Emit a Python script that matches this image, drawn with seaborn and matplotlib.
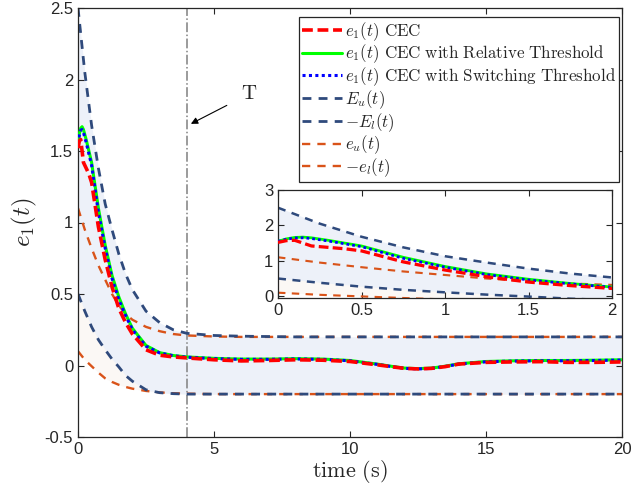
import numpy as np
import matplotlib
matplotlib.use('Agg')
from matplotlib import pyplot as plt
import seaborn as sns

# error trajectories e1(t)
t_e = [0, 0.05, 0.1, 0.15, 0.2, 0.3, 0.4, 0.5, 0.75, 1, 1.25, 1.5, 1.75, 2, 2.5, 3, 3.5, 4,
       5, 6, 7, 8, 9, 10, 11, 11.5, 12, 12.5, 13, 13.5, 14, 15, 16, 17, 18, 19, 20]
e_cec = [1.52, 1.57, 1.58, 1.50, 1.42, 1.38, 1.34, 1.28, 0.97, 0.74, 0.55, 0.40, 0.30, 0.22, 0.11, 0.072, 0.06, 0.053,
         0.04, 0.032, 0.035, 0.04, 0.037, 0.028, 0.005, -0.008, -0.02, -0.024, -0.02, -0.008, 0.01,
         0.022, 0.025, 0.027, 0.022, 0.022, 0.025]
e_rel = [1.55, 1.62, 1.66, 1.67, 1.65, 1.58, 1.50, 1.42, 1.10, 0.84, 0.63, 0.48, 0.36, 0.26, 0.14, 0.09, 0.07, 0.06,
         0.05, 0.045, 0.045, 0.048, 0.045, 0.035, 0.01, -0.005, -0.018, -0.022, -0.018, -0.005, 0.012,
         0.028, 0.033, 0.035, 0.035, 0.037, 0.04]
e_sw = [1.55, 1.61, 1.645, 1.65, 1.63, 1.56, 1.48, 1.40, 1.07, 0.82, 0.61, 0.46, 0.35, 0.25, 0.135, 0.088, 0.068, 0.058,
        0.048, 0.043, 0.043, 0.046, 0.043, 0.033, 0.008, -0.007, -0.02, -0.024, -0.02, -0.007, 0.01,
        0.026, 0.031, 0.033, 0.033, 0.035, 0.038]

# performance bounds
t_b = [0, 0.25, 0.5, 0.75, 1, 1.25, 1.5, 1.75, 2, 2.5, 3, 3.5, 4, 5, 6, 8, 10, 12, 14, 16, 18, 20]
E_u = [2.5, 2.05, 1.68, 1.38, 1.13, 0.95, 0.78, 0.64, 0.53, 0.38, 0.30, 0.25, 0.225, 0.21, 0.205,
       0.2, 0.2, 0.2, 0.2, 0.2, 0.2, 0.2]
E_l = [0.5, 0.38, 0.27, 0.18, 0.11, 0.045, -0.01, -0.07, -0.11, -0.17, -0.19, -0.197, -0.2, -0.2, -0.2,
       -0.2, -0.2, -0.2, -0.2, -0.2, -0.2, -0.2]
e_u = [1.1, 0.95, 0.82, 0.70, 0.60, 0.50, 0.42, 0.36, 0.32, 0.27, 0.24, 0.22, 0.21, 0.203, 0.2,
       0.2, 0.2, 0.2, 0.2, 0.2, 0.2, 0.2]
e_l = [0.1, 0.04, -0.005, -0.05, -0.09, -0.115, -0.135, -0.15, -0.162, -0.178, -0.188, -0.194, -0.197,
       -0.2, -0.2, -0.2, -0.2, -0.2, -0.2, -0.2, -0.2, -0.2]

T_switch = 4

sns.set_style('ticks')
plt.rcParams['font.family'] = ['Liberation Sans', 'DejaVu Sans']
plt.rcParams['mathtext.fontset'] = 'cm'
plt.rcParams['axes.unicode_minus'] = False
plt.rcParams['xtick.direction'] = 'in'
plt.rcParams['ytick.direction'] = 'in'

navy = '#2f4a7c'
orange = '#d95319'
ink = '#262626'


def draw(ax, big):
    ax.fill_between(t_b, e_l, e_u, color='#fbf8f5', lw=0, zorder=0)
    ax.fill_between(t_b, E_l, E_u, color='#edf1f9', lw=0, zorder=0.5)
    s = 1.0 if big else 0.9
    sns.lineplot(x=t_b, y=E_u, ax=ax, color=navy, lw=2*s, linestyle=(0, (3.2, 2.6)), zorder=2,
                 estimator=None, sort=False)
    sns.lineplot(x=t_b, y=E_l, ax=ax, color=navy, lw=2*s, linestyle=(0, (3.2, 2.6)), zorder=2,
                 estimator=None, sort=False)
    sns.lineplot(x=t_b, y=e_u, ax=ax, color=orange, lw=1.7*s, linestyle=(0, (3.5, 3.0)), zorder=1.8,
                 estimator=None, sort=False)
    sns.lineplot(x=t_b, y=e_l, ax=ax, color=orange, lw=1.7*s, linestyle=(0, (3.5, 3.0)), zorder=1.8,
                 estimator=None, sort=False)
    sns.lineplot(x=t_e, y=e_rel, ax=ax, color='#00ff00', lw=2.2*s, zorder=3, estimator=None, sort=False)
    sns.lineplot(x=t_e, y=e_sw, ax=ax, color='#0000ff', lw=2.2*s, linestyle=(0, (1, 1.1)), zorder=4,
                 estimator=None, sort=False)
    sns.lineplot(x=t_e, y=e_cec, ax=ax, color='#ff0000', lw=2.6*s, linestyle=(0, (3, 1.3)), zorder=5,
                 estimator=None, sort=False)
    for sp in ax.spines.values():
        sp.set_color(ink)
        sp.set_linewidth(0.9)
        sp.set_visible(True)
    ax.tick_params(colors=ink, top=True, right=True, length=4, width=0.8)


fig = plt.figure(figsize=(6.32, 4.96), dpi=100)
ax = fig.add_axes([78/632, 1-437/496, 544/632, 429/496])
draw(ax, True)
ax.axvline(T_switch, color='#808080', lw=1.1, linestyle='-.', zorder=1)
ax.set_xlim(0, 20)
ax.set_ylim(-0.5, 2.5)
ax.set_xticks([0, 5, 10, 15, 20])
ax.set_xticklabels(['0', '5', '10', '15', '20'], fontsize=12)
ax.set_yticks([-0.5, 0, 0.5, 1, 1.5, 2, 2.5])
ax.set_yticklabels(['-0.5', '0', '0.5', '1', '1.5', '2', '2.5'], fontsize=12)
ax.set_xlabel(r'$\mathrm{time\ (s)}$', fontsize=16, labelpad=1)
ax.set_ylabel(r'$e_1(t)$', fontsize=18, labelpad=4)
ax.annotate(r'$\mathrm{T}$', xy=(4.15, 1.69), xytext=(6.3, 1.9), fontsize=15,
            ha='center', va='center',
            arrowprops=dict(arrowstyle='-|>', color='black', lw=0.8, mutation_scale=10,
                            shrinkA=9, shrinkB=0))

labels = [r'$e_1(t)\ \mathrm{CEC}$',
          r'$e_1(t)\ \mathrm{CEC\ with\ Relative\ Threshold}$',
          r'$e_1(t)\ \mathrm{CEC\ with\ Switching\ Threshold}$',
          r'$E_u(t)$', r'$-E_l(t)$', r'$e_u(t)$', r'$-e_l(t)$']
lines = ax.get_lines()
# lines order: E_u, E_l, e_u, e_l, rel, sw, cec
handles = [lines[6], lines[4], lines[5], lines[0], lines[1], lines[2], lines[3]]
leg = ax.legend(handles, labels, loc='upper right', bbox_to_anchor=(541/544, 420/429),
                borderaxespad=0, fontsize=12.2, handlelength=2.35, handletextpad=0.2,
                labelspacing=0.0, borderpad=0.18, fancybox=False, framealpha=1)
leg.get_frame().set_edgecolor(ink)
leg.get_frame().set_linewidth(0.9)

axin = fig.add_axes([278/632, 1-298/496, 334/632, 108/496])
draw(axin, False)
axin.set_xlim(0, 2)
axin.set_ylim(-0.05, 3)
axin.set_xticks([0, 0.5, 1, 1.5, 2])
axin.set_xticklabels(['0', '0.5', '1', '1.5', '2'], fontsize=12)
axin.set_yticks([0, 1, 2, 3])
axin.set_yticklabels(['0', '1', '2', '3'], fontsize=12)
axin.set_xlabel('')
axin.set_ylabel('')
axin.set_facecolor('white')

fig.savefig('out.png', dpi=100)
